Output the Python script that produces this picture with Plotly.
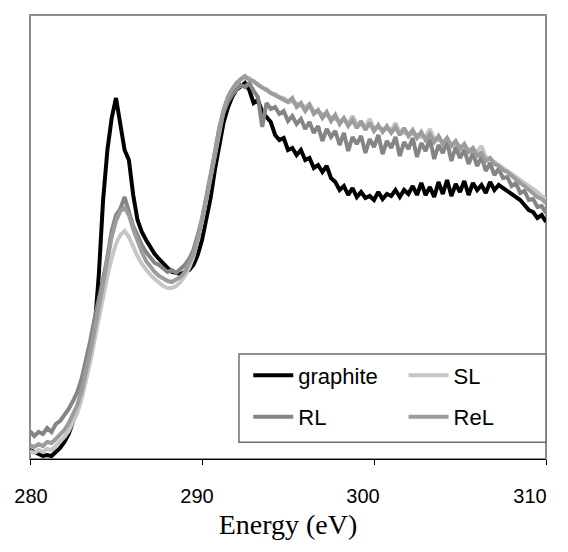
import plotly.graph_objects as go

# Photon energy grid (eV)
ENERGY = [
    280.00, 280.25, 280.50, 280.75, 281.00, 281.25, 281.50, 281.75, 282.00, 282.25, 282.50, 282.75,
    283.00, 283.25, 283.50, 283.75, 284.00, 284.25, 284.50, 284.75, 285.00, 285.25, 285.50, 285.75,
    286.00, 286.25, 286.50, 286.75, 287.00, 287.25, 287.50, 287.75, 288.00, 288.25, 288.50, 288.75,
    289.00, 289.25, 289.50, 289.75, 290.00, 290.25, 290.50, 290.75, 291.00, 291.25, 291.50, 291.75,
    292.00, 292.25, 292.50, 292.75, 293.00, 293.25, 293.50, 293.75, 294.00, 294.25, 294.50, 294.75,
    295.00, 295.25, 295.50, 295.75, 296.00, 296.25, 296.50, 296.75, 297.00, 297.25, 297.50, 297.75,
    298.00, 298.25, 298.50, 298.75, 299.00, 299.25, 299.50, 299.75, 300.00, 300.25, 300.50, 300.75,
    301.00, 301.25, 301.50, 301.75, 302.00, 302.25, 302.50, 302.75, 303.00, 303.25, 303.50, 303.75,
    304.00, 304.25, 304.50, 304.75, 305.00, 305.25, 305.50, 305.75, 306.00, 306.25, 306.50, 306.75,
    307.00, 307.25, 307.50, 307.75, 308.00, 308.25, 308.50, 308.75, 309.00, 309.25, 309.50, 309.75,
    310.00,
]

# Intensities (arbitrary units)
GRAPHITE = [
    9, 7, 5, 3, 4, 3, 7, 11, 17, 25, 37, 51,
    67, 87, 109, 129, 184, 259, 309, 341, 361, 334, 309, 299,
    264, 239, 227, 219, 211, 205, 200, 195, 191, 187, 186, 185,
    187, 189, 194, 204, 219, 239, 261, 289, 314, 336, 351, 362,
    369, 373, 376, 369, 356, 359, 347, 342, 337, 324, 319, 321,
    309, 311, 304, 309, 299, 301, 291, 294, 287, 293, 281, 277,
    269, 273, 264, 271, 262, 267, 261, 263, 259, 267, 260, 265,
    263, 269, 262, 269, 265, 273, 264, 276, 264, 272, 262, 277,
    265, 279, 263, 275, 267, 278, 264, 276, 269, 274, 266, 277,
    269, 274, 271, 269, 266, 263, 259, 254, 249, 247, 241, 244,
    237,
]
SL = [
    8, 6, 9, 7, 10, 9, 13, 17, 22, 28, 36, 46,
    60, 77, 97, 119, 142, 163, 183, 201, 215, 224, 228, 222,
    212, 203, 195, 189, 184, 180, 176, 173, 171, 171, 173, 177,
    183, 191, 202, 218, 237, 259, 282, 306, 330, 348, 361, 369,
    375, 379, 381, 381, 377, 375, 371, 370, 366, 365, 362, 361,
    358, 357, 356, 353, 352, 355, 348, 347, 345, 344, 342, 340,
    338, 339, 336, 343, 335, 334, 333, 340, 331, 331, 330, 329,
    329, 336, 327, 326, 326, 325, 324, 322, 322, 330, 320, 319,
    318, 317, 316, 314, 313, 311, 310, 308, 307, 313, 302, 300,
    297, 295, 292, 289, 286, 283, 280, 277, 273, 270, 267, 263,
    260,
]
RL = [
    28, 23, 27, 25, 31, 27, 35, 38, 44, 50, 58, 67,
    80, 97, 118, 140, 158, 180, 202, 228, 244, 250, 262, 248,
    233, 224, 214, 207, 202, 196, 194, 190, 187, 189, 186, 190,
    194, 200, 209, 224, 240, 262, 283, 306, 330, 346, 357, 364,
    369, 374, 372, 376, 368, 362, 332, 356, 350, 352, 345, 348,
    338, 343, 335, 340, 330, 337, 326, 333, 318, 330, 322, 328,
    314, 326, 308, 322, 315, 323, 306, 320, 312, 324, 305, 318,
    311, 322, 303, 317, 310, 321, 302, 316, 308, 320, 300, 314,
    306, 317, 298, 312, 301, 309, 295, 306, 293, 302, 288, 296,
    284, 290, 281, 282, 273, 276, 266, 268, 259, 260, 252, 253,
    246,
]
REL = [
    14, 12, 15, 13, 17, 16, 20, 24, 29, 36, 44, 54,
    68, 86, 107, 129, 152, 176, 199, 222, 238, 248, 251, 244,
    230, 218, 207, 198, 192, 187, 183, 180, 178, 177, 179, 182,
    187, 195, 205, 220, 238, 260, 283, 307, 331, 349, 362, 370,
    376, 380, 383, 379, 378, 374, 372, 369, 366, 364, 361, 360,
    357, 361, 352, 356, 348, 354, 345, 349, 341, 347, 338, 344,
    335, 341, 333, 339, 331, 338, 329, 336, 328, 334, 327, 333,
    326, 332, 324, 331, 323, 329, 321, 327, 319, 325, 317, 323,
    315, 321, 313, 318, 310, 315, 307, 311, 303, 306, 298, 301,
    295, 293, 289, 287, 283, 280, 276, 273, 269, 266, 262, 260,
    256,
]

X_TICKS = [280, 290, 300, 310]
X_TICK_LABELS = ["280", "290", "300", "310"]
# In the original the labels sit slightly left of their tick marks
X_LABEL_AT = [280.06, 289.71, 299.36, 309.07]

SERIES = [
    ("graphite", GRAPHITE, "#000000", "legend", "g1"),
    ("SL", SL, "#c6c6c6", "legend2", "g2"),
    ("RL", RL, "#858585", "legend", "g3"),
    ("ReL", REL, "#9c9c9c", "legend2", "g4"),
]

fig = go.Figure()
for name, vals, color, leg, grp in SERIES:
    fig.add_trace(go.Scatter(
        x=ENERGY, y=vals, mode="lines", name=name,
        line=dict(color=color, width=4),
        legend=leg, legendgroup=grp,
    ))

SANS = "Arial, 'Liberation Sans', sans-serif"
SERIF = "'Times New Roman', 'Liberation Serif', serif"

leg_common = dict(
    orientation="v", bgcolor="rgba(0,0,0,0)", borderwidth=0,
    font=dict(family=SANS, size=22, color="#000000"),
    itemwidth=40, tracegroupgap=10, yanchor="middle", xanchor="left",
)

# The page body adds an 8 px margin, so the figure is 8 px smaller than the window.
fig.update_layout(
    width=560, height=544,
    margin=dict(l=22, r=22, t=7, b=93),
    paper_bgcolor="white", plot_bgcolor="white",
    showlegend=True,
    legend=dict(x=0.423, y=0.141, **leg_common),
    legend2=dict(x=0.724, y=0.141, **leg_common),
    xaxis=dict(
        range=[280, 310], tickvals=X_LABEL_AT, ticktext=X_TICK_LABELS,
        ticks="outside", ticklen=0, tickcolor="#000000", tickwidth=1,
        minor=dict(tickvals=X_TICKS, ticks="outside", ticklen=5,
                   tickcolor="#000000", tickwidth=1, showgrid=False),
        showline=True, linecolor="#000000", linewidth=1,
        showgrid=False, zeroline=False,
        tickfont=dict(family=SANS, size=20, color="#000000"),
        ticklabelstandoff=19,
        title=dict(text="Energy (eV)", font=dict(family=SERIF, size=28, color="#000000"), standoff=8),
        automargin=False,
    ),
    yaxis=dict(
        range=[0, 444], showticklabels=False, ticks="", showgrid=False,
        zeroline=False, showline=False, automargin=False,
    ),
    shapes=[
        dict(type="rect", xref="paper", yref="paper", x0=0, x1=1, y0=0, y1=1,
             line=dict(color="#8c8c8c", width=2), fillcolor="rgba(0,0,0,0)", layer="below"),
        dict(type="rect", xref="paper", yref="paper", x0=0.405, x1=1.0, y0=0.038, y1=0.2365,
             line=dict(color="#6e6e6e", width=1.5), fillcolor="white", layer="above"),
    ],
)

fig.write_html("out.html")
